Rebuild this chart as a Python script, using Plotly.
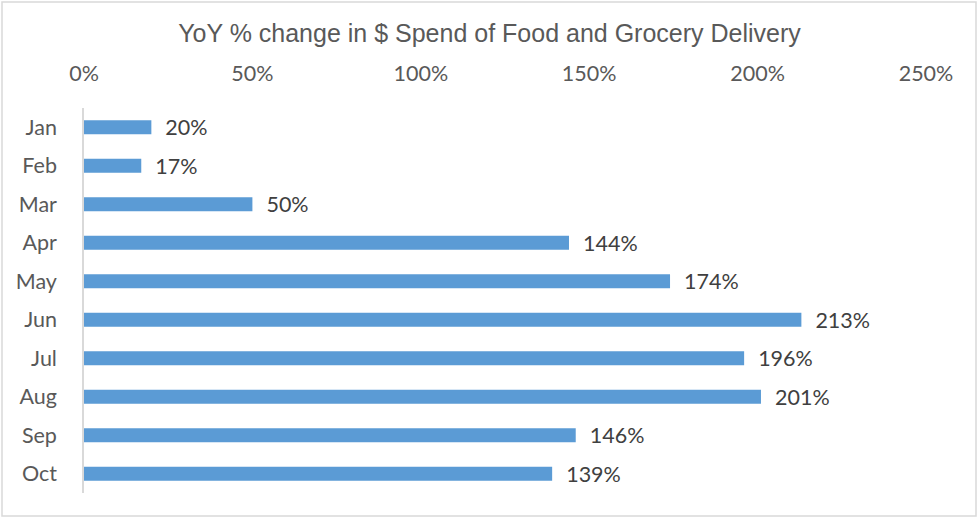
import plotly.graph_objects as go

months = ["Jan", "Feb", "Mar", "Apr", "May", "Jun", "Jul", "Aug", "Sep", "Oct"]
yoy_pct = [20, 17, 50, 144, 174, 213, 196, 201, 146, 139]
tick_vals = [0, 50, 100, 150, 200, 250]
tick_text = ["0%", "50%", "100%", "150%", "200%", "250%"]

W, H = 979, 518
L, R, T, B = 84, 53, 108, 25
pw, ph = W - L - R, H - T - B
FONT = "Lato, Open Sans, sans-serif"

fig = go.Figure(go.Bar(
    x=yoy_pct, y=months, orientation="h",
    marker=dict(color="#5B9BD5", line=dict(width=0)),
    text=[f"  {v}%" for v in yoy_pct],
    textposition="outside", cliponaxis=False, constraintext="none",
    textfont=dict(family=FONT, size=21.5, color="#404040"),
    hoverinfo="skip",
))

fig.update_layout(
    width=W, height=H,
    margin=dict(l=L, r=R, t=T, b=B, autoexpand=False),
    paper_bgcolor="white", plot_bgcolor="white",
    bargap=0.64,
    showlegend=False,
    title=dict(text="YoY % change in $ Spend of Food and Grocery Delivery",
               x=0.5, xref="container", y=1 - 33 / H, yanchor="middle", xanchor="center",
               font=dict(family="Liberation Sans, Arial, sans-serif", size=25, color="#595959")),
    xaxis=dict(side="top", range=[0, 250], tickvals=tick_vals, ticktext=tick_text,
               showgrid=False, zeroline=False, showline=False, ticks="",
               ticklabelstandoff=22, automargin=False,
               tickfont=dict(family=FONT, size=21.5, color="#595959")),
    yaxis=dict(autorange="reversed", showgrid=False, zeroline=False,
               showline=True, linecolor="#D9D9D9", linewidth=1.5, ticks="",
               ticklabelstandoff=21, automargin=False,
               tickfont=dict(family=FONT, size=21.5, color="#595959")),
)

# outer chart border
fig.add_shape(type="rect", xref="paper", yref="paper",
              x0=(2 - L) / pw, x1=(976 - L) / pw,
              y0=(T + ph - 516) / ph, y1=(T + ph - 2) / ph,
              line=dict(color="#D9D9D9", width=1.5), fillcolor="rgba(0,0,0,0)", layer="below")

fig.write_html("out.html", config={"displayModeBar": False},
               post_script="document.body.style.margin='0';document.body.style.overflow='hidden';")
